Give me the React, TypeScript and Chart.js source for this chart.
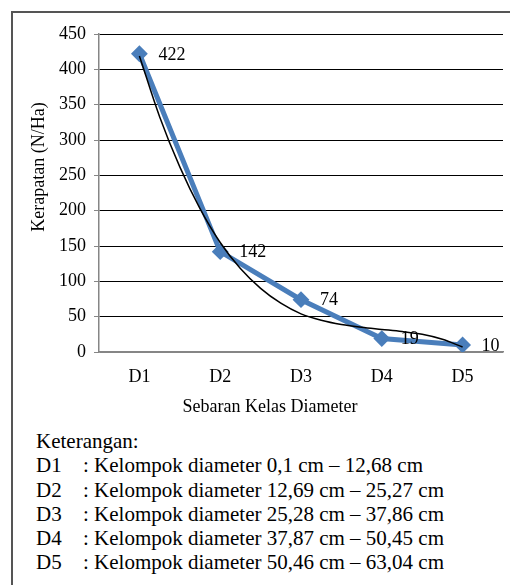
import React, { useEffect, useRef } from "react";
import { Chart, registerables } from "chart.js";

Chart.register(...registerables);

const categories = ["D1", "D2", "D3", "D4", "D5"];
const density = [422, 142, 74, 19, 10];
const yTickValues = [0, 50, 100, 150, 200, 250, 300, 350, 400, 450];
// black trend curve
const trendX = [1, 1.25, 1.5, 1.75, 2, 2.25, 2.5, 2.75, 3, 3.25, 3.5, 3.75, 4, 4.25, 4.5, 4.75, 5];
const trendY = [419, 333, 262, 203, 155, 118, 90, 69, 54, 45, 39, 35, 32, 29, 25, 18, 7];
const xTitle = "Sebaran Kelas Diameter";
const yTitle = "Kerapatan (N/Ha)";
const legendTitle = "Keterangan:";
const legendCodes = ["D1", "D2", "D3", "D4", "D5"];
const legendTexts = [
  "Kelompok diameter 0,1 cm – 12,68 cm",
  "Kelompok diameter 12,69 cm – 25,27 cm",
  "Kelompok diameter 25,28 cm – 37,86 cm",
  "Kelompok diameter 37,87 cm – 50,45 cm",
  "Kelompok diameter 50,46 cm – 63,04 cm",
];

const SERIF = '"Liberation Serif", "Times New Roman", serif';
const BLUE = "#4A7EBB";
const AXIS_GRAY = "#868686";

export default function App() {
  const ref = useRef<HTMLCanvasElement | null>(null);

  useEffect(() => {
    if (!ref.current) return;
    const labelPlugin = {
      id: "labelsAndTitles",
      afterDatasetsDraw(chart: any) {
        const ctx = chart.ctx;
        ctx.save();
        ctx.fillStyle = "#000";
        ctx.font = `18px ${SERIF}`;
        ctx.textAlign = "left";
        ctx.textBaseline = "middle";
        const meta = chart.getDatasetMeta(1);
        meta.data.forEach((pt: any, i: number) => {
          ctx.fillText(String(density[i]), pt.x + 19, pt.y + 1);
        });
        // x title
        ctx.font = `18px ${SERIF}`;
        ctx.textAlign = "center";
        ctx.fillText(xTitle, 270, 407);
        // y title
        ctx.translate(39, 167);
        ctx.rotate(-Math.PI / 2);
        ctx.fillText(yTitle, 0, 0);
        ctx.restore();
      },
    };

    const chart = new Chart(ref.current, {
      type: "line",
      data: {
        datasets: [
          {
            label: "trend",
            data: trendX.map((x, i) => ({ x, y: trendY[i] })),
            borderColor: "#000",
            borderWidth: 1.5,
            pointRadius: 0,
            tension: 0.4,
            cubicInterpolationMode: "monotone",
            fill: false,
          },
          {
            label: "Kerapatan",
            data: density.map((y, i) => ({ x: i + 1, y })),
            borderColor: BLUE,
            backgroundColor: BLUE,
            borderWidth: 5,
            pointStyle: "rectRot",
            pointRadius: 7,
            pointBorderWidth: 2,
            pointBorderColor: BLUE,
            pointBackgroundColor: BLUE,
            tension: 0,
            fill: false,
          },
        ],
      },
      options: {
        animation: false,
        responsive: false,
        layout: { padding: { left: 0, top: 34, right: 1, bottom: 0 } },
        plugins: {
          legend: { display: false },
          tooltip: { enabled: false },
          title: { display: false },
        },
        scales: {
          x: {
            type: "linear",
            min: 0.5,
            max: 5.5,
            afterBuildTicks: (s: any) => {
              s.ticks = categories.map((_, i) => ({ value: i + 1 }));
            },
            afterFit: (s: any) => {
              s.height = 68;
            },
            ticks: {
              callback: (v: any) => categories[Math.round(v) - 1] ?? "",
              font: { family: SERIF, size: 18 },
              color: "#000",
              padding: 14,
              maxRotation: 0,
              autoSkip: false,
            },
            grid: { display: false, drawTicks: false },
            border: { display: true, color: AXIS_GRAY, width: 1.5 },
          },
          y: {
            min: 0,
            max: 450,
            afterBuildTicks: (s: any) => {
              s.ticks = yTickValues.map((v) => ({ value: v }));
            },
            afterFit: (s: any) => {
              s.width = 99;
            },
            ticks: {
              font: { family: SERIF, size: 18 },
              color: "#000",
              padding: 8,
            },
            grid: {
              color: (c: any) => (c.tick && c.tick.value === 0 ? AXIS_GRAY : "#000"),
              lineWidth: 1,
              tickColor: AXIS_GRAY,
              tickLength: 5,
            },
            border: { display: true, color: AXIS_GRAY, width: 1.5 },
          },
        },
      },
      plugins: [labelPlugin],
    } as any);
    return () => chart.destroy();
  }, []);

  return (
    <div
      style={{
        position: "absolute",
        left: 0,
        top: 0,
        width: 510,
        height: 585,
        overflow: "hidden",
        background: "#fff",
      }}
    >
      <div
        style={{
          position: "absolute",
          left: 11,
          top: 11,
          width: 620,
          height: 620,
          border: "2px solid #555",
        }}
      />
      <canvas
        ref={ref}
        width={512}
        height={420}
        style={{ position: "absolute", left: 0, top: 0, width: 512, height: 420 }}
      />
      <div
        style={{
          position: "absolute",
          left: 36,
          top: 429,
          fontFamily: SERIF,
          fontSize: 21,
          lineHeight: "24.3px",
          color: "#000",
          whiteSpace: "nowrap",
        }}
      >
        <div>{legendTitle}</div>
        {legendCodes.map((c, i) => (
          <div key={c}>
            <span style={{ display: "inline-block", width: 47 }}>{c}</span>
            <span>: {legendTexts[i]}</span>
          </div>
        ))}
      </div>
    </div>
  );
}
